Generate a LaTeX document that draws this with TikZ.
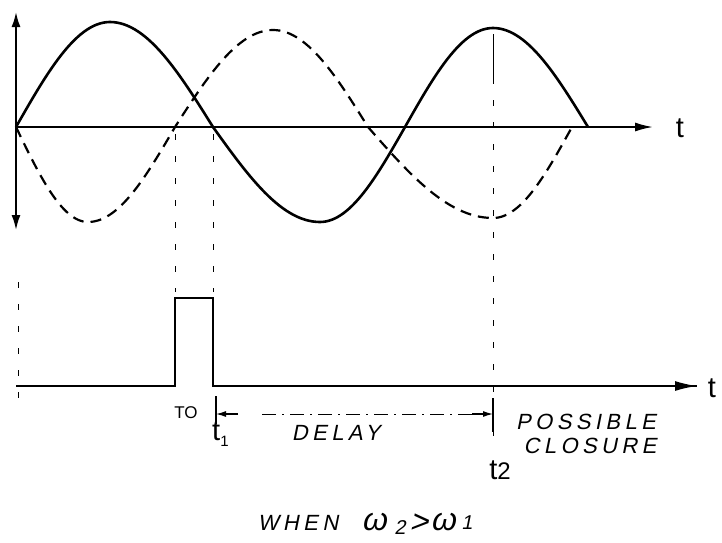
\documentclass[tikz,border=0pt]{standalone}
\usepackage{fontspec}
\setmainfont{Liberation Sans}
\newfontfamily\hand[LetterSpace=20,FakeSlant=0.2]{Liberation Sans}
\newfontfamily\handplain[FakeSlant=0.2]{Liberation Sans}
\newfontfamily\handtight{Liberation Sans}
\usetikzlibrary{arrows.meta}
\tikzset{
  axisline/.style={line width=1.8pt},
  curve/.style={line width=2.6pt},
  dcurve/.style={line width=2.2pt, dash pattern=on 11pt off 7pt},
  guide/.style={line width=0.7pt, dash pattern=on 6pt off 16pt},
  pulse/.style={line width=2.6pt, line join=miter},
  tick/.style={line width=1.2pt},
  tlabel/.style={font=\fontsize{29}{29}\selectfont, inner sep=0pt},
  caps/.style={font=\hand\fontsize{22}{22}\selectfont, inner sep=0pt},
  greek/.style={font=\handplain\fontsize{32}{32}\selectfont, inner sep=0pt},
  sub/.style={font=\handplain\fontsize{20}{20}\selectfont, inner sep=0pt},
  tip/.style={-{Latex[length=18pt,width=9pt]}},
  bigtip/.style={-{Latex[length=22pt,width=10pt]}}
}
\begin{document}
\begin{tikzpicture}[x=1pt,y=-1pt]
\useasboundingbox (0,0) rectangle (722,542);
% coordinates
\coordinate (O) at (16,127);
\coordinate (Vtop) at (16,12);
\coordinate (Vbot) at (16,230);
\coordinate (Hend) at (653,127);
\coordinate (B0) at (16,386);
\coordinate (P1) at (175,386);
\coordinate (P2) at (175,298);
\coordinate (P3) at (213,298);
\coordinate (P4) at (213,386);
\coordinate (Bend) at (697,386);
% axes
\draw[axisline, {Latex[length=15pt,width=9pt]}-{Latex[length=15pt,width=9pt]}] (Vtop) -- (Vbot);
\draw[axisline, tip] (O) -- (Hend);
\node[tlabel] (tA) at (680,128) {t};
% solid curve
\draw[curve]
  plot[domain=16:110,samples=30] (\x,{127-105*sin(90*(\x-16)/94)})
  -- plot[domain=110:213,samples=30] (\x,{127-105*cos(90*(\x-110)/103)})
  -- plot[domain=213:320,samples=30] (\x,{127+95*sin(90*(\x-213)/107)})
  -- plot[domain=320:405,samples=30] (\x,{127+95*cos(90*(\x-320)/85)})
  -- plot[domain=405:493,samples=30] (\x,{127-99*sin(90*(\x-405)/88)})
  -- plot[domain=493:588,samples=30] (\x,{127-99*cos(90*(\x-493)/95)});
% dashed curve
\draw[dcurve]
  plot[domain=16:88,samples=30] (\x,{127+95*sin(90*(\x-16)/72)})
  -- plot[domain=88:175,samples=30] (\x,{127+95*cos(90*(\x-88)/87)})
  -- plot[domain=175:273,samples=30] (\x,{127-97*sin(90*(\x-175)/98)})
  -- plot[domain=273:368,samples=30] (\x,{127-97*cos(90*(\x-273)/95)})
  -- plot[domain=368:493,samples=30] (\x,{127+91*sin(90*(\x-368)/125)})
  -- plot[domain=493:572,samples=30] (\x,{127+91*cos(90*(\x-493)/79)});
% guide lines
\coordinate (g1a) at (175,134); \coordinate (g1b) at (175,292);
\coordinate (g2a) at (213,134); \coordinate (g2b) at (213,292);
\coordinate (g3a) at (493,34);  \coordinate (g3b) at (493,445);
\coordinate (g4a) at (18,282);  \coordinate (g4b) at (18,405);
\draw[guide] (g1a) -- (g1b);
\draw[guide] (g2a) -- (g2b);
\draw[guide] (g3a) -- (g3b);
\draw[guide] (g4a) -- (g4b);
\draw[line width=0.9pt] (493,36) -- (493,80);
% pulse
\draw[pulse] (B0) -- (P1) -- (P2) -- (P3) -- (P4) -- (Bend);
\draw[axisline, bigtip] (P4) -- (Bend);
\node[tlabel] (tB) at (712,388) {t};
% delay
\coordinate (d1t) at (216,396); \coordinate (d1b) at (216,424);
\coordinate (d2t) at (493,398); \coordinate (d2b) at (493,432);
\coordinate (dL) at (216,414); \coordinate (dR) at (493,414);
\coordinate (dLm) at (238,414); \coordinate (dRm) at (472,414);
\draw[tick] (d1t) -- (d1b);
\draw[tick] (d2t) -- (d2b);
\draw[line width=1.2pt, -{Latex[length=10pt,width=6pt]}] (dLm) -- (dL);
\draw[line width=1.2pt, -{Latex[length=10pt,width=6pt]}] (dRm) -- (dR);
\draw[line width=0.8pt, dash pattern=on 14pt off 6pt on 2pt off 6pt] (262,414) -- (dRm);
% labels
\node[font=\handtight\fontsize{17}{17}\selectfont, inner sep=0pt] (T0) at (186,413) {TO};
\node[tlabel, anchor=west] (t1) at (212,434) {t\raisebox{-6pt}{\fontsize{15}{15}\selectfont 1}};
\node[caps] (delay) at (336,433) {DELAY};
\node[caps] (poss) at (586,422) {POSSIBLE};
\node[caps] (clos) at (590,446) {CLOSURE};
\node[tlabel] (t2) at (500,470) {t\fontsize{24}{24}\selectfont 2};
% WHEN w2 > w1
\node[caps] (when) at (298,523) {WHEN};
\node[greek] (w2) at (374,522) {ω};
\node[sub] (s2) at (400,528) {2};
\node[greek] (gt) at (419,523) {>};
\node[greek] (w1) at (443,522) {ω};
\node[sub] (s1) at (467,523) {1};
\end{tikzpicture}
\end{document}
